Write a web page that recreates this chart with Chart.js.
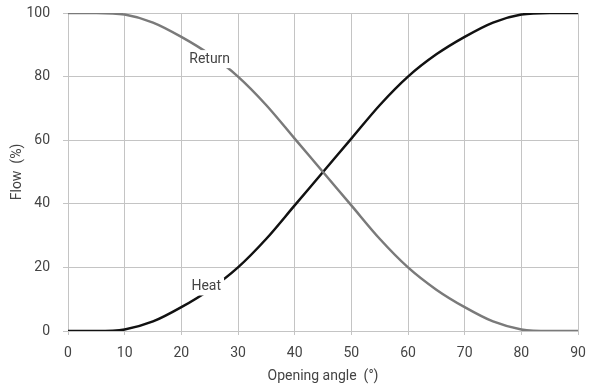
<!DOCTYPE html>
<html>
<head>
<meta charset="utf-8">
<script src="https://cdn.jsdelivr.net/npm/chart.js@4.4.1/dist/chart.umd.min.js"></script>
<style>
	html, body { margin: 0; padding: 0; background: #fff; }
	#wrap { width: 598px; height: 387px; }
</style>
</head>
<body>
<div id="wrap"><canvas id="flow-chart"></canvas></div>
<script>
const angles = [0, 5, 10, 15, 20, 25, 30, 35, 40, 45, 50, 55, 60, 65, 70, 75, 80, 85, 90];
const heatFlow = [0, 0, 0.5, 3, 7.5, 13, 20, 29, 39.5, 50, 60.5, 71, 80, 87, 92.5, 97, 99.5, 100, 100];
const returnFlow = [100, 100, 99.5, 97, 92.5, 87, 80, 71, 60.5, 50, 39.5, 29, 20, 13, 7.5, 3, 0.5, 0, 0];

const xTicks = [0, 10, 20, 30, 40, 50, 60, 70, 80, 90];
const yTicks = [0, 20, 40, 60, 80, 100];

const curveLabels = [
	{ text: 'Return', x: 25, y: 85.5 },
	{ text: 'Heat', x: 24.4, y: 14 },
];

const fontFamily = 'Roboto, "DejaVu Sans", sans-serif';

const curveLabelPlugin = {
	id: 'curveLabels',
	afterDatasetsDraw(chart) {
		const { ctx, scales } = chart;
		ctx.save();
		ctx.font = `14px ${fontFamily}`;
		ctx.textAlign = 'center';
		ctx.textBaseline = 'middle';
		curveLabels.forEach((l) => {
			const px = scales.x.getPixelForValue(l.x);
			const py = scales.y.getPixelForValue(l.y);
			const w = ctx.measureText(l.text).width;
			ctx.fillStyle = '#fff';
			ctx.fillRect(px - w / 2 - 3, py - 9, w + 6, 18);
			ctx.fillStyle = '#444';
			ctx.fillText(l.text, px, py);
		});
		ctx.restore();
	}
};

new Chart(document.getElementById('flow-chart'), {
	type: 'line',
	data: {
		datasets: [
			{
				label: 'Return',
				data: angles.map((a, i) => ({ x: a, y: returnFlow[i] })),
				borderColor: '#7a7a7a',
				borderWidth: 2.5,
				pointRadius: 0,
				cubicInterpolationMode: 'monotone',
			},
			{
				label: 'Heat',
				data: angles.map((a, i) => ({ x: a, y: heatFlow[i] })),
				borderColor: '#111',
				borderWidth: 2.5,
				pointRadius: 0,
				cubicInterpolationMode: 'monotone',
			}
		]
	},
	options: {
		responsive: true,
		maintainAspectRatio: false,
		animation: false,
		layout: { padding: { top: 13, right: 20, left: 0, bottom: 0 } },
		plugins: {
			legend: { display: false },
			tooltip: { enabled: false },
		},
		scales: {
			x: {
				type: 'linear',
				min: 0,
				max: 90,
				afterBuildTicks: (axis) => { axis.ticks = xTicks.map((v) => ({ value: v })); },
				afterFit: (axis) => { axis.height = 56; axis.paddingLeft = 0; axis.paddingRight = 0; },
				grid: { color: '#c4c4c4', lineWidth: 1, tickLength: 4 },
				border: { color: '#c4c4c4' },
				ticks: { color: '#444', font: { family: fontFamily, size: 14 }, padding: 10, maxRotation: 0 },
				title: { display: true, text: 'Opening angle  (°)', color: '#444', font: { family: fontFamily, size: 14 }, padding: { top: 0, bottom: 2 } },
			},
			y: {
				min: 0,
				max: 100,
				afterBuildTicks: (axis) => { axis.ticks = yTicks.map((v) => ({ value: v })); },
				afterFit: (axis) => { axis.width = 68; axis.paddingTop = 0; axis.paddingBottom = 0; },
				grid: { color: '#c4c4c4', lineWidth: 1, tickLength: 5 },
				border: { color: '#c4c4c4' },
				ticks: { color: '#444', font: { family: fontFamily, size: 14 }, padding: 13 },
				title: { display: true, text: 'Flow  (%)', color: '#444', font: { family: fontFamily, size: 14 }, padding: { top: 9, bottom: 0 } },
			}
		}
	},
	plugins: [curveLabelPlugin]
});
</script>
</body>
</html>
